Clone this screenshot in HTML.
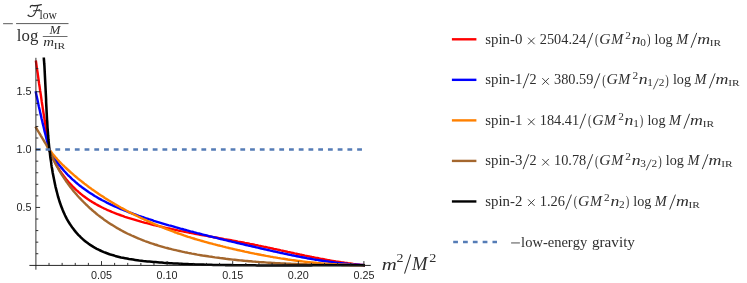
<!DOCTYPE html>
<html><head><meta charset="utf-8"><title>plot</title>
<style>html,body{margin:0;padding:0;background:#fff;}svg{display:block;}</style></head>
<body><svg style="will-change:transform" width="747" height="283" viewBox="0 0 747 283">
<rect width="747" height="283" fill="#ffffff"/>
<path d="M36.0,61.7 L36.5,65.4 L37.0,69.0 L37.6,72.7 L38.1,76.3 L38.6,80.0 L39.1,83.7 L39.7,87.3 L40.2,91.0 L40.8,94.7 L41.3,98.3 L41.8,102.0 L42.4,105.7 L42.9,109.3 L43.5,113.0 L44.1,116.6 L44.6,120.3 L45.2,124.0 L45.7,127.6 L46.3,131.3 L46.9,134.9 L47.5,138.6 L48.0,142.3 L48.6,145.9 L49.2,149.6 L49.8,151.2 L50.5,152.8 L51.1,154.5 L51.8,156.0 L52.6,157.6 L53.3,159.2 L54.1,160.8 L54.9,162.3 L55.8,163.9 L56.6,165.4 L57.5,166.9 L58.5,168.4 L59.4,169.9 L60.4,171.4 L61.4,172.8 L62.4,174.3 L63.5,175.7 L64.5,177.1 L65.6,178.5 L66.7,179.9 L67.9,181.2 L69.0,182.5 L70.2,183.8 L71.4,185.1 L72.6,186.4 L73.9,187.6 L75.1,188.9 L76.4,190.1 L77.7,191.2 L79.0,192.4 L80.3,193.5 L81.7,194.6 L83.1,195.7 L84.5,196.7 L85.9,197.8 L87.3,198.8 L88.7,199.7 L90.2,200.7 L91.6,201.6 L93.1,202.5 L94.6,203.4 L96.1,204.3 L97.6,205.1 L99.1,205.9 L100.7,206.7 L102.2,207.5 L103.8,208.3 L105.4,209.0 L107.0,209.8 L108.6,210.5 L110.2,211.2 L111.8,211.9 L113.4,212.5 L115.0,213.2 L116.7,213.8 L118.3,214.4 L120.0,215.0 L121.6,215.6 L123.3,216.2 L124.9,216.8 L126.6,217.3 L128.3,217.9 L130.0,218.4 L131.7,218.9 L133.4,219.4 L135.1,219.9 L136.7,220.4 L138.4,220.9 L140.1,221.4 L141.8,221.9 L143.5,222.3 L145.2,222.8 L146.9,223.2 L148.6,223.7 L150.3,224.1 L152.1,224.5 L153.8,225.0 L155.5,225.4 L157.2,225.8 L158.9,226.2 L160.6,226.6 L162.3,227.0 L164.0,227.4 L165.7,227.8 L167.4,228.2 L169.1,228.5 L170.9,228.9 L172.6,229.3 L174.3,229.6 L176.0,230.0 L177.7,230.4 L179.4,230.7 L181.1,231.1 L182.9,231.4 L184.6,231.7 L186.3,232.1 L188.0,232.4 L189.7,232.7 L191.5,233.1 L193.2,233.4 L194.9,233.7 L196.6,234.0 L198.3,234.4 L200.1,234.7 L201.8,235.0 L203.5,235.3 L205.2,235.6 L206.9,235.9 L208.7,236.3 L210.4,236.6 L212.1,236.9 L213.8,237.2 L215.6,237.5 L217.3,237.8 L219.0,238.1 L220.7,238.4 L222.4,238.7 L224.2,239.1 L225.9,239.4 L227.6,239.7 L229.3,240.0 L231.1,240.3 L232.8,240.6 L234.5,240.9 L236.2,241.2 L237.9,241.6 L239.7,241.9 L241.4,242.2 L243.1,242.5 L244.8,242.9 L246.6,243.2 L248.3,243.5 L250.0,243.9 L251.7,244.2 L253.4,244.5 L255.2,244.9 L256.9,245.2 L258.6,245.6 L260.3,245.9 L262.0,246.3 L263.7,246.7 L265.5,247.0 L267.2,247.4 L268.9,247.8 L270.6,248.1 L272.3,248.5 L274.0,248.9 L275.8,249.2 L277.5,249.6 L279.2,250.0 L280.9,250.4 L282.6,250.7 L284.3,251.1 L286.1,251.5 L287.8,251.9 L289.5,252.2 L291.2,252.6 L292.9,253.0 L294.6,253.4 L296.4,253.7 L298.1,254.1 L299.8,254.5 L301.5,254.8 L303.2,255.2 L305.0,255.6 L306.7,255.9 L308.4,256.3 L310.1,256.6 L311.8,257.0 L313.6,257.3 L315.3,257.7 L317.0,258.0 L318.7,258.3 L320.4,258.7 L322.2,259.0 L323.9,259.3 L325.6,259.6 L327.3,260.0 L329.1,260.3 L330.8,260.6 L332.5,260.9 L334.3,261.2 L336.0,261.5 L337.7,261.7 L339.4,262.0 L341.2,262.3 L342.9,262.5 L344.6,262.8 L346.4,263.0 L348.1,263.3 L349.9,263.5 L351.6,263.7 L353.3,264.0 L355.1,264.2 L356.8,264.4 L358.6,264.6 L360.3,264.8 L362.1,264.9 L363.8,265.1" fill="none" stroke="#ff0000" stroke-width="2.4" stroke-linejoin="round" stroke-linecap="square"/>
<path d="M35.9,92.5 L36.4,94.9 L36.9,97.3 L37.4,99.6 L37.9,102.0 L38.4,104.4 L38.9,106.8 L39.5,109.2 L40.0,111.5 L40.5,113.9 L41.1,116.3 L41.6,118.7 L42.2,121.0 L42.7,123.4 L43.3,125.8 L43.9,128.2 L44.4,130.6 L45.0,132.9 L45.6,135.3 L46.2,137.7 L46.8,140.1 L47.4,142.5 L48.0,144.8 L48.6,147.2 L49.2,149.6 L50.1,151.2 L50.9,152.7 L51.8,154.2 L52.7,155.7 L53.7,157.2 L54.6,158.7 L55.6,160.1 L56.6,161.6 L57.7,163.0 L58.7,164.4 L59.8,165.7 L60.9,167.1 L62.0,168.4 L63.1,169.7 L64.2,171.0 L65.4,172.3 L66.6,173.6 L67.7,174.8 L69.0,176.0 L70.2,177.2 L71.4,178.4 L72.7,179.6 L74.0,180.7 L75.3,181.9 L76.6,183.0 L77.9,184.1 L79.2,185.2 L80.6,186.2 L81.9,187.3 L83.3,188.3 L84.7,189.3 L86.1,190.3 L87.5,191.3 L88.9,192.3 L90.4,193.2 L91.8,194.1 L93.3,195.1 L94.7,196.0 L96.2,196.8 L97.7,197.7 L99.2,198.6 L100.7,199.4 L102.2,200.2 L103.8,201.0 L105.3,201.8 L106.8,202.6 L108.4,203.4 L109.9,204.1 L111.5,204.9 L113.1,205.6 L114.7,206.3 L116.2,207.0 L117.8,207.7 L119.4,208.4 L121.0,209.1 L122.6,209.7 L124.3,210.4 L125.9,211.0 L127.5,211.7 L129.1,212.3 L130.7,212.9 L132.4,213.5 L134.0,214.1 L135.7,214.7 L137.3,215.3 L138.9,215.9 L140.6,216.4 L142.2,217.0 L143.9,217.5 L145.5,218.1 L147.2,218.6 L148.8,219.2 L150.5,219.7 L152.2,220.2 L153.8,220.8 L155.5,221.3 L157.1,221.8 L158.8,222.3 L160.5,222.8 L162.1,223.3 L163.8,223.8 L165.5,224.3 L167.1,224.8 L168.8,225.3 L170.5,225.7 L172.1,226.2 L173.8,226.7 L175.5,227.2 L177.1,227.6 L178.8,228.1 L180.5,228.6 L182.1,229.0 L183.8,229.5 L185.5,229.9 L187.2,230.4 L188.8,230.8 L190.5,231.3 L192.2,231.7 L193.8,232.2 L195.5,232.6 L197.2,233.1 L198.9,233.5 L200.6,233.9 L202.2,234.4 L203.9,234.8 L205.6,235.2 L207.3,235.6 L208.9,236.1 L210.6,236.5 L212.3,236.9 L214.0,237.3 L215.7,237.7 L217.3,238.1 L219.0,238.6 L220.7,239.0 L222.4,239.4 L224.1,239.8 L225.7,240.2 L227.4,240.6 L229.1,241.0 L230.8,241.4 L232.5,241.8 L234.2,242.2 L235.8,242.6 L237.5,243.0 L239.2,243.4 L240.9,243.8 L242.6,244.2 L244.3,244.6 L246.0,245.0 L247.7,245.4 L249.3,245.7 L251.0,246.1 L252.7,246.5 L254.4,246.9 L256.1,247.3 L257.8,247.7 L259.5,248.1 L261.2,248.5 L262.9,248.9 L264.6,249.3 L266.3,249.6 L267.9,250.0 L269.6,250.4 L271.3,250.8 L273.0,251.2 L274.7,251.5 L276.4,251.9 L278.1,252.3 L279.8,252.7 L281.5,253.0 L283.2,253.4 L284.9,253.8 L286.6,254.1 L288.3,254.5 L290.0,254.8 L291.7,255.2 L293.4,255.5 L295.1,255.9 L296.8,256.2 L298.5,256.5 L300.2,256.9 L301.9,257.2 L303.6,257.5 L305.3,257.8 L307.0,258.2 L308.7,258.5 L310.5,258.8 L312.2,259.1 L313.9,259.4 L315.6,259.7 L317.3,259.9 L319.0,260.2 L320.7,260.5 L322.4,260.8 L324.1,261.0 L325.9,261.3 L327.6,261.5 L329.3,261.8 L331.0,262.0 L332.7,262.2 L334.4,262.5 L336.2,262.7 L337.9,262.9 L339.6,263.1 L341.3,263.3 L343.0,263.5 L344.8,263.7 L346.5,263.8 L348.2,264.0 L349.9,264.1 L351.7,264.3 L353.4,264.4 L355.1,264.6 L356.9,264.7 L358.6,264.8 L360.3,264.9 L362.1,265.0 L363.8,265.1" fill="none" stroke="#0000ff" stroke-width="2.4" stroke-linejoin="round" stroke-linecap="square"/>
<path d="M46.6,145.3 L47.4,146.5 L48.2,147.8 L49.0,149.0 L49.9,150.2 L50.7,151.3 L51.6,152.5 L52.5,153.7 L53.4,154.8 L54.4,155.9 L55.3,157.0 L56.3,158.1 L57.2,159.2 L58.2,160.3 L59.2,161.4 L60.2,162.4 L61.3,163.5 L62.3,164.5 L63.3,165.5 L64.4,166.5 L65.4,167.5 L66.5,168.5 L67.6,169.5 L68.7,170.5 L69.8,171.5 L70.9,172.5 L72.0,173.4 L73.1,174.4 L74.2,175.4 L75.3,176.3 L76.4,177.2 L77.5,178.2 L78.7,179.1 L79.8,180.0 L81.0,180.9 L82.1,181.8 L83.3,182.7 L84.4,183.6 L85.6,184.5 L86.8,185.4 L87.9,186.3 L89.1,187.2 L90.3,188.0 L91.5,188.9 L92.7,189.7 L93.9,190.6 L95.1,191.4 L96.3,192.3 L97.5,193.1 L98.7,193.9 L99.9,194.7 L101.1,195.5 L102.4,196.3 L103.6,197.1 L104.8,197.9 L106.1,198.7 L107.3,199.5 L108.5,200.3 L109.8,201.0 L111.0,201.8 L112.3,202.6 L113.5,203.3 L114.8,204.1 L116.1,204.8 L117.3,205.5 L118.6,206.3 L119.9,207.0 L121.1,207.7 L122.4,208.4 L123.7,209.1 L125.0,209.8 L126.3,210.5 L127.6,211.2 L128.8,211.9 L130.1,212.6 L131.4,213.2 L132.7,213.9 L134.0,214.5 L135.3,215.2 L136.7,215.8 L138.0,216.5 L139.3,217.1 L140.6,217.8 L141.9,218.4 L143.2,219.0 L144.6,219.6 L145.9,220.2 L147.2,220.8 L148.5,221.4 L149.9,222.0 L151.2,222.6 L152.5,223.2 L153.9,223.8 L155.2,224.4 L156.6,224.9 L157.9,225.5 L159.3,226.1 L160.6,226.6 L162.0,227.2 L163.3,227.7 L164.7,228.3 L166.1,228.8 L167.4,229.4 L168.8,229.9 L170.2,230.4 L171.5,230.9 L172.9,231.4 L174.3,232.0 L175.7,232.5 L177.0,233.0 L178.4,233.5 L179.8,233.9 L181.2,234.4 L182.6,234.9 L183.9,235.4 L185.3,235.8 L186.7,236.3 L188.1,236.8 L189.5,237.2 L190.9,237.7 L192.3,238.1 L193.7,238.5 L195.1,239.0 L196.5,239.4 L197.9,239.8 L199.3,240.2 L200.7,240.6 L202.1,241.0 L203.5,241.4 L204.9,241.8 L206.3,242.2 L207.7,242.6 L209.2,243.0 L210.6,243.3 L212.0,243.7 L213.4,244.1 L214.8,244.4 L216.2,244.8 L217.6,245.2 L219.1,245.5 L220.5,245.9 L221.9,246.2 L223.3,246.6 L224.7,246.9 L226.2,247.3 L227.6,247.6 L229.0,248.0 L230.4,248.3 L231.8,248.6 L233.3,249.0 L234.7,249.3 L236.1,249.6 L237.5,250.0 L239.0,250.3 L240.4,250.6 L241.8,250.9 L243.3,251.2 L244.7,251.6 L246.1,251.9 L247.5,252.2 L249.0,252.5 L250.4,252.8 L251.8,253.1 L253.3,253.4 L254.7,253.7 L256.1,253.9 L257.6,254.2 L259.0,254.5 L260.5,254.8 L261.9,255.1 L263.3,255.3 L264.8,255.6 L266.2,255.9 L267.7,256.1 L269.1,256.4 L270.5,256.7 L272.0,256.9 L273.4,257.2 L274.9,257.4 L276.3,257.6 L277.8,257.9 L279.2,258.1 L280.7,258.4 L282.1,258.6 L283.6,258.8 L285.0,259.0 L286.4,259.2 L287.9,259.5 L289.3,259.7 L290.8,259.9 L292.2,260.1 L293.7,260.3 L295.2,260.5 L296.6,260.7 L298.1,260.9 L299.5,261.0 L301.0,261.2 L302.4,261.4 L303.9,261.6 L305.3,261.8 L306.8,261.9 L308.2,262.1 L309.7,262.2 L311.2,262.4 L312.6,262.5 L314.1,262.7 L315.5,262.8 L317.0,263.0 L318.4,263.1 L319.9,263.2 L321.4,263.4 L322.8,263.5 L324.3,263.6 L325.7,263.7 L327.2,263.8 L328.7,263.9 L330.1,264.0 L331.6,264.1 L333.0,264.2 L334.5,264.3 L336.0,264.4 L337.4,264.5 L338.9,264.5 L340.4,264.6 L341.8,264.7 L343.3,264.7 L344.8,264.8 L346.2,264.8 L347.7,264.9 L349.1,264.9 L350.6,265.0 L352.1,265.0 L353.5,265.0 L355.0,265.1 L356.5,265.1 L357.9,265.1 L359.4,265.1 L360.9,265.1 L362.3,265.1 L363.8,265.1" fill="none" stroke="#ff8000" stroke-width="2.4" stroke-linejoin="round"/>
<path d="M36.0,127.6 L36.5,128.5 L37.1,129.4 L37.6,130.3 L38.2,131.3 L38.7,132.2 L39.3,133.1 L39.8,134.0 L40.4,134.9 L40.9,135.8 L41.5,136.8 L42.0,137.7 L42.6,138.6 L43.1,139.5 L43.7,140.4 L44.2,141.3 L44.8,142.3 L45.3,143.2 L45.9,144.1 L46.4,145.0 L47.0,145.9 L47.5,146.8 L48.1,147.8 L48.6,148.7 L49.2,149.6 L49.9,151.3 L50.6,153.0 L51.3,154.6 L52.0,156.3 L52.8,158.0 L53.5,159.6 L54.3,161.2 L55.1,162.8 L55.9,164.5 L56.8,166.1 L57.7,167.6 L58.5,169.2 L59.4,170.8 L60.4,172.3 L61.3,173.9 L62.2,175.4 L63.2,176.9 L64.2,178.4 L65.2,179.9 L66.2,181.4 L67.3,182.8 L68.3,184.3 L69.4,185.7 L70.5,187.2 L71.6,188.6 L72.7,190.0 L73.8,191.4 L75.0,192.7 L76.2,194.1 L77.3,195.5 L78.5,196.8 L79.8,198.1 L81.0,199.4 L82.2,200.7 L83.5,202.0 L84.7,203.2 L86.0,204.5 L87.3,205.7 L88.6,207.0 L89.9,208.2 L91.3,209.3 L92.6,210.5 L94.0,211.7 L95.4,212.8 L96.7,214.0 L98.1,215.1 L99.6,216.2 L101.0,217.3 L102.4,218.3 L103.8,219.4 L105.3,220.4 L106.8,221.4 L108.2,222.4 L109.7,223.4 L111.2,224.4 L112.7,225.3 L114.3,226.3 L115.8,227.2 L117.3,228.1 L118.9,229.0 L120.4,229.9 L122.0,230.7 L123.6,231.6 L125.1,232.4 L126.7,233.2 L128.3,234.0 L129.9,234.7 L131.6,235.5 L133.2,236.2 L134.8,236.9 L136.5,237.6 L138.1,238.3 L139.8,239.0 L141.4,239.7 L143.1,240.3 L144.8,241.0 L146.4,241.6 L148.1,242.2 L149.8,242.8 L151.5,243.4 L153.2,243.9 L154.9,244.5 L156.7,245.0 L158.4,245.6 L160.1,246.1 L161.8,246.6 L163.6,247.1 L165.3,247.6 L167.1,248.0 L168.8,248.5 L170.5,248.9 L172.3,249.4 L174.1,249.8 L175.8,250.2 L177.6,250.6 L179.4,251.0 L181.1,251.4 L182.9,251.8 L184.7,252.2 L186.5,252.5 L188.2,252.9 L190.0,253.2 L191.8,253.6 L193.6,253.9 L195.4,254.2 L197.2,254.6 L198.9,254.9 L200.7,255.2 L202.5,255.5 L204.3,255.7 L206.1,256.0 L207.9,256.3 L209.7,256.6 L211.5,256.8 L213.3,257.1 L215.0,257.4 L216.8,257.6 L218.6,257.8 L220.4,258.1 L222.2,258.3 L224.0,258.5 L225.8,258.8 L227.6,259.0 L229.3,259.2 L231.1,259.4 L232.9,259.6 L234.7,259.8 L236.5,260.0 L238.3,260.2 L240.1,260.4 L241.9,260.5 L243.6,260.7 L245.4,260.9 L247.2,261.0 L249.0,261.2 L250.8,261.3 L252.6,261.5 L254.4,261.6 L256.1,261.8 L257.9,261.9 L259.7,262.1 L261.5,262.2 L263.3,262.3 L265.1,262.4 L266.9,262.6 L268.7,262.7 L270.4,262.8 L272.2,262.9 L274.0,263.0 L275.8,263.1 L277.6,263.2 L279.4,263.3 L281.2,263.4 L283.0,263.5 L284.8,263.5 L286.5,263.6 L288.3,263.7 L290.1,263.8 L291.9,263.9 L293.7,263.9 L295.5,264.0 L297.3,264.1 L299.1,264.1 L300.9,264.2 L302.7,264.2 L304.4,264.3 L306.2,264.3 L308.0,264.4 L309.8,264.4 L311.6,264.5 L313.4,264.5 L315.2,264.6 L317.0,264.6 L318.8,264.6 L320.6,264.7 L322.4,264.7 L324.2,264.7 L326.0,264.8 L327.8,264.8 L329.6,264.8 L331.4,264.8 L333.2,264.9 L335.0,264.9 L336.8,264.9 L338.6,264.9 L340.4,264.9 L342.2,265.0 L344.0,265.0 L345.8,265.0 L347.6,265.0 L349.4,265.0 L351.2,265.0 L353.0,265.0 L354.8,265.1 L356.6,265.1 L358.4,265.1 L360.2,265.1 L362.0,265.1 L363.8,265.1" fill="none" stroke="#a4672e" stroke-width="2.4" stroke-linejoin="round" stroke-linecap="square"/>
<path d="M43.8,57.5 L43.9,59.5 L44.1,61.5 L44.2,63.5 L44.4,65.5 L44.5,67.5 L44.6,69.5 L44.7,71.5 L44.8,73.5 L44.9,75.5 L45.0,77.5 L45.1,79.5 L45.2,81.5 L45.3,83.5 L45.4,85.5 L45.5,87.5 L45.6,89.5 L45.7,91.5 L45.8,93.5 L45.9,95.5 L46.0,97.5 L46.1,99.5 L46.1,101.5 L46.2,103.5 L46.3,105.4 L46.4,107.4 L46.5,109.4 L46.6,111.4 L46.7,113.4 L46.8,115.4 L46.9,117.4 L47.0,119.3 L47.2,121.3 L47.3,123.3 L47.4,125.3 L47.5,127.3 L47.7,129.3 L47.8,131.2 L48.0,133.2 L48.1,135.2 L48.3,137.2 L48.4,139.2 L48.6,141.2 L48.8,143.1 L49.0,145.1 L49.2,147.1 L49.4,149.1 L49.6,151.1 L49.9,153.0 L50.1,155.0 L50.3,157.0 L50.6,159.0 L50.9,160.9 L51.2,162.9 L51.4,164.9 L51.7,166.9 L52.1,168.8 L52.4,170.8 L52.7,172.8 L53.1,174.8 L53.5,176.8 L53.9,178.7 L54.3,180.7 L54.7,182.7 L55.1,184.7 L55.5,186.6 L56.0,188.6 L56.5,190.6 L57.0,192.5 L57.5,194.5 L58.0,196.5 L58.6,198.4 L59.2,200.3 L59.8,202.3 L60.5,204.2 L61.1,206.1 L61.9,208.0 L62.6,209.8 L63.4,211.7 L64.2,213.5 L65.0,215.3 L65.9,217.1 L66.8,218.9 L67.8,220.6 L68.8,222.3 L69.9,224.0 L71.0,225.6 L72.1,227.2 L73.3,228.8 L74.5,230.4 L75.7,231.9 L77.0,233.4 L78.3,234.8 L79.7,236.2 L81.1,237.6 L82.5,238.9 L84.0,240.2 L85.5,241.4 L87.0,242.6 L88.6,243.8 L90.2,244.9 L91.8,245.9 L93.4,246.9 L95.1,247.9 L96.8,248.8 L98.6,249.7 L100.3,250.5 L102.1,251.3 L103.9,252.1 L105.7,252.8 L107.6,253.5 L109.5,254.2 L111.4,254.8 L113.3,255.3 L115.2,255.9 L117.1,256.4 L119.1,256.9 L121.0,257.4 L123.0,257.8 L125.0,258.2 L127.0,258.6 L129.0,259.0 L131.1,259.3 L133.1,259.6 L135.1,259.9 L137.1,260.2 L139.2,260.5 L141.2,260.7 L143.3,261.0 L145.3,261.2 L147.4,261.4 L149.4,261.6 L151.5,261.8 L153.5,262.0 L155.5,262.1 L157.6,262.3 L159.6,262.5 L161.6,262.6 L163.6,262.8 L165.6,262.9 L167.6,263.0 L169.6,263.2 L171.6,263.3 L173.6,263.4 L175.6,263.5 L177.6,263.6 L179.6,263.7 L181.6,263.8 L183.6,263.9 L185.6,264.0 L187.6,264.1 L189.5,264.2 L191.5,264.2 L193.5,264.3 L195.5,264.4 L197.4,264.5 L199.4,264.5 L201.4,264.6 L203.4,264.6 L205.3,264.7 L207.3,264.7 L209.3,264.8 L211.3,264.8 L213.2,264.9 L215.2,264.9 L217.2,264.9 L219.2,265.0 L221.1,265.0 L223.1,265.0 L225.1,265.1 L227.1,265.1 L229.1,265.1 L231.1,265.1 L233.1,265.2 L235.0,265.2 L237.0,265.2 L239.0,265.2 L241.0,265.3 L243.0,265.3 L245.0,265.3 L247.0,265.3 L249.0,265.3 L251.0,265.3 L253.0,265.3 L255.0,265.3 L257.0,265.4 L259.0,265.4 L261.0,265.4 L263.0,265.4 L265.0,265.4 L267.0,265.4 L269.0,265.4 L271.0,265.4 L273.0,265.4 L275.0,265.4 L277.0,265.4 L279.0,265.4 L281.0,265.4 L283.0,265.4 L285.1,265.4 L287.1,265.4 L289.1,265.4 L291.1,265.4 L293.1,265.4 L295.1,265.4 L297.1,265.4 L299.1,265.4 L301.1,265.4 L303.1,265.4 L305.1,265.4 L307.1,265.4 L309.1,265.4 L311.1,265.4 L313.1,265.3 L315.1,265.3 L317.1,265.3 L319.2,265.3 L321.2,265.3 L323.2,265.3 L325.2,265.3 L327.2,265.3 L329.2,265.3 L331.2,265.3 L333.2,265.3 L335.2,265.3 L337.2,265.3 L339.1,265.3 L341.1,265.3 L343.1,265.3 L345.1,265.3 L347.1,265.3 L349.1,265.3 L351.1,265.3 L353.1,265.3 L355.1,265.3 L357.1,265.3 L359.1,265.3 L361.0,265.3 L363.0,265.3 L365.0,265.4" fill="none" stroke="#000000" stroke-width="2.55" stroke-linejoin="round"/>
<line x1="35.9" y1="149.6" x2="363.6" y2="149.6" stroke="#557cb6" stroke-width="2.5" stroke-dasharray="4.8 4.935"/>
<g stroke="#1c1c1c" stroke-width="0.9" fill="none">
<line x1="29.4" y1="265.42" x2="370.8" y2="265.42" stroke-width="0.95" stroke="#1c1c1c"/>
<line x1="35.9" y1="57.8" x2="35.9" y2="269.7"/>
<line x1="49.02" y1="265.3" x2="49.02" y2="262.90000000000003"/>
<line x1="62.14" y1="265.3" x2="62.14" y2="262.90000000000003"/>
<line x1="75.26" y1="265.3" x2="75.26" y2="262.90000000000003"/>
<line x1="88.38" y1="265.3" x2="88.38" y2="262.90000000000003"/>
<line x1="101.50" y1="265.3" x2="101.50" y2="261.1"/>
<line x1="114.62" y1="265.3" x2="114.62" y2="262.90000000000003"/>
<line x1="127.74" y1="265.3" x2="127.74" y2="262.90000000000003"/>
<line x1="140.86" y1="265.3" x2="140.86" y2="262.90000000000003"/>
<line x1="153.98" y1="265.3" x2="153.98" y2="262.90000000000003"/>
<line x1="167.10" y1="265.3" x2="167.10" y2="261.1"/>
<line x1="180.22" y1="265.3" x2="180.22" y2="262.90000000000003"/>
<line x1="193.34" y1="265.3" x2="193.34" y2="262.90000000000003"/>
<line x1="206.46" y1="265.3" x2="206.46" y2="262.90000000000003"/>
<line x1="219.58" y1="265.3" x2="219.58" y2="262.90000000000003"/>
<line x1="232.70" y1="265.3" x2="232.70" y2="261.1"/>
<line x1="245.82" y1="265.3" x2="245.82" y2="262.90000000000003"/>
<line x1="258.94" y1="265.3" x2="258.94" y2="262.90000000000003"/>
<line x1="272.06" y1="265.3" x2="272.06" y2="262.90000000000003"/>
<line x1="285.18" y1="265.3" x2="285.18" y2="262.90000000000003"/>
<line x1="298.30" y1="265.3" x2="298.30" y2="261.1"/>
<line x1="311.42" y1="265.3" x2="311.42" y2="262.90000000000003"/>
<line x1="324.54" y1="265.3" x2="324.54" y2="262.90000000000003"/>
<line x1="337.66" y1="265.3" x2="337.66" y2="262.90000000000003"/>
<line x1="350.78" y1="265.3" x2="350.78" y2="262.90000000000003"/>
<line x1="363.90" y1="265.3" x2="363.90" y2="261.1"/>
<line x1="35.9" y1="253.73" x2="38.3" y2="253.73"/>
<line x1="35.9" y1="242.16" x2="38.3" y2="242.16"/>
<line x1="35.9" y1="230.59" x2="38.3" y2="230.59"/>
<line x1="35.9" y1="219.02" x2="38.3" y2="219.02"/>
<line x1="35.9" y1="207.45" x2="40.1" y2="207.45"/>
<line x1="35.9" y1="195.88" x2="38.3" y2="195.88"/>
<line x1="35.9" y1="184.31" x2="38.3" y2="184.31"/>
<line x1="35.9" y1="172.74" x2="38.3" y2="172.74"/>
<line x1="35.9" y1="161.17" x2="38.3" y2="161.17"/>
<line x1="35.9" y1="149.60" x2="40.1" y2="149.60"/>
<line x1="35.9" y1="138.03" x2="38.3" y2="138.03"/>
<line x1="35.9" y1="126.46" x2="38.3" y2="126.46"/>
<line x1="35.9" y1="114.89" x2="38.3" y2="114.89"/>
<line x1="35.9" y1="103.32" x2="38.3" y2="103.32"/>
<line x1="35.9" y1="91.75" x2="40.1" y2="91.75"/>
<line x1="35.9" y1="80.18" x2="38.3" y2="80.18"/>
<line x1="35.9" y1="68.61" x2="38.3" y2="68.61"/>
</g>
<g font-family="Liberation Sans, sans-serif" font-size="10.8" fill="#1e1e1e">
<text x="101.50" y="278.8" text-anchor="middle">0.05</text>
<text x="167.10" y="278.8" text-anchor="middle">0.10</text>
<text x="232.70" y="278.8" text-anchor="middle">0.15</text>
<text x="298.30" y="278.8" text-anchor="middle">0.20</text>
<text x="363.90" y="278.8" text-anchor="middle">0.25</text>
<text x="31.6" y="211.15" text-anchor="end">0.5</text>
<text x="31.6" y="153.30" text-anchor="end">1.0</text>
<text x="31.6" y="95.45" text-anchor="end">1.5</text>
</g>
<g font-family="Liberation Serif, serif" fill="#2e2e2e" style="font-kerning:none">
<line x1="3.1" y1="23.7" x2="12.8" y2="23.7" stroke="#2e2e2e" stroke-width="0.8"/>
<line x1="16.1" y1="23.6" x2="68.5" y2="23.6" stroke="#2e2e2e" stroke-width="0.8"/>
<path d="M30.4,7.1 C30.2,5.7 31.4,5.4 33,5.6 C36,6.0 38.6,5.5 41.3,4.6" fill="none" stroke="#2e2e2e" stroke-width="1.35" stroke-linecap="round"/>
<path d="M37.9,5.7 C37.0,9.0 35.8,12.5 34.3,14.6 C32.9,16.6 30.0,17.1 28.1,15.5" fill="none" stroke="#2e2e2e" stroke-width="1.05" stroke-linecap="round"/>
<circle cx="28.3" cy="15.2" r="0.75" fill="#2e2e2e"/>
<path d="M33.4,10.9 C35.5,10.6 37.5,10.5 39.2,10.2 M39.2,9.4 L39.2,11.1" fill="none" stroke="#2e2e2e" stroke-width="1.0" stroke-linecap="round"/>
<text transform="translate(39.47,19.10) scale(0.927,1)" font-size="12.5">low</text>
<text transform="translate(16.86,41.30) scale(0.976,1)" font-size="17.2">log</text>
<text transform="translate(49.45,33.60) scale(1.142,1)" font-size="11.5" font-style="italic">M</text>
<line x1="42.8" y1="36.5" x2="67.5" y2="36.5" stroke="#2e2e2e" stroke-width="0.7"/>
<text transform="translate(43.36,46.10) scale(1.296,1)" font-size="11.5" font-style="italic">m</text>
<text transform="translate(53.78,48.70) scale(1.442,1)" font-size="8">IR</text>
<text transform="translate(381.75,269.50) scale(1.189,1)" font-size="17.5" font-style="italic">m</text>
<text transform="translate(396.59,262.00) scale(1.164,1)" font-size="12">2</text>
<line x1="404.70" y1="273.20" x2="410.60" y2="254.80" stroke="#2e2e2e" stroke-width="1.05" stroke-linecap="round"/>
<text transform="translate(412.12,269.50) scale(1.065,1.08)" font-size="17.5" font-style="italic">M</text>
<text transform="translate(429.18,262.00) scale(1.185,1)" font-size="12">2</text>
<line x1="451.9" y1="39.3" x2="476.4" y2="39.3" stroke="#ff0000" stroke-width="2.4"/>
<line x1="451.9" y1="79.84" x2="476.4" y2="79.84" stroke="#0000ff" stroke-width="2.4"/>
<line x1="451.9" y1="120.38" x2="476.4" y2="120.38" stroke="#ff8000" stroke-width="2.4"/>
<line x1="451.9" y1="160.92" x2="476.4" y2="160.92" stroke="#a4672e" stroke-width="2.4"/>
<line x1="451.9" y1="201.46" x2="476.4" y2="201.46" stroke="#000000" stroke-width="2.4"/>
<line x1="453.2" y1="242.0" x2="497" y2="242.0" stroke="#557cb6" stroke-width="2.5" stroke-dasharray="4.75 5.07"/>
<text transform="translate(485.30,43.90) scale(1.076,1)" font-size="13.8">spin-0</text>
<path d="M528.36,37.95 L534.36,43.95 M528.36,43.95 L534.36,37.95" stroke="#2e2e2e" stroke-width="0.9" stroke-linecap="round" fill="none"/>
<text transform="translate(539.78,43.90) scale(1.037,1)" font-size="13.8">2504.24</text>
<line x1="587.08" y1="47.45" x2="592.59" y2="33.26" stroke="#2e2e2e" stroke-width="0.95" stroke-linecap="round"/>
<g transform="translate(0,44.30) scale(1,1.08) translate(0,-43.90)">
<text transform="translate(595.05,43.90) scale(0.761,1)" font-size="13.8">(</text>
</g>
<text transform="translate(599.32,43.90) scale(1.131,1.07)" font-size="13.8" font-style="italic">G</text>
<text transform="translate(611.22,43.90) scale(1.039,1.07)" font-size="13.8" font-style="italic">M</text>
<text transform="translate(625.37,38.80) scale(1.153,1)" font-size="9.8">2</text>
<text transform="translate(631.66,43.90) scale(1.289,1)" font-size="13.8" font-style="italic">n</text>
<text transform="translate(640.24,46.00) scale(1.153,1)" font-size="9.8">0</text>
<g transform="translate(0,44.30) scale(1,1.08) translate(0,-43.90)">
<text transform="translate(646.97,43.90) scale(0.761,1)" font-size="13.8">)</text>
</g>
<text transform="translate(654.49,43.90) scale(1.028,1)" font-size="13.8">log</text>
<text transform="translate(676.15,43.90) scale(1.039,1.07)" font-size="13.8" font-style="italic">M</text>
<line x1="691.10" y1="47.45" x2="696.60" y2="33.26" stroke="#2e2e2e" stroke-width="0.95" stroke-linecap="round"/>
<text transform="translate(697.18,43.90) scale(1.293,1)" font-size="13.8" font-style="italic">m</text>
<text transform="translate(709.86,46.00) scale(1.227,1)" font-size="9.2">I</text>
<text transform="translate(713.62,46.00) scale(1.237,1)" font-size="9.2">R</text>
<text transform="translate(485.30,84.35) scale(1.076,1)" font-size="13.8">spin-1</text>
<line x1="523.23" y1="87.90" x2="528.74" y2="73.71" stroke="#2e2e2e" stroke-width="0.95" stroke-linecap="round"/>
<text transform="translate(529.53,84.35) scale(1.028,1)" font-size="13.8">2</text>
<path d="M542.55,78.40 L548.55,84.40 M542.55,84.40 L548.55,78.40" stroke="#2e2e2e" stroke-width="0.9" stroke-linecap="round" fill="none"/>
<text transform="translate(553.97,84.35) scale(1.039,1)" font-size="13.8">380.59</text>
<line x1="594.18" y1="87.90" x2="599.69" y2="73.71" stroke="#2e2e2e" stroke-width="0.95" stroke-linecap="round"/>
<g transform="translate(0,84.75) scale(1,1.08) translate(0,-84.35)">
<text transform="translate(602.15,84.35) scale(0.761,1)" font-size="13.8">(</text>
</g>
<text transform="translate(606.42,84.35) scale(1.131,1.07)" font-size="13.8" font-style="italic">G</text>
<text transform="translate(618.31,84.35) scale(1.039,1.07)" font-size="13.8" font-style="italic">M</text>
<text transform="translate(632.46,79.25) scale(1.153,1)" font-size="9.8">2</text>
<text transform="translate(638.76,84.35) scale(1.289,1)" font-size="13.8" font-style="italic">n</text>
<text transform="translate(647.34,86.45) scale(1.153,1)" font-size="9.8">1</text>
<line x1="653.51" y1="88.98" x2="658.11" y2="78.85" stroke="#2e2e2e" stroke-width="0.8" stroke-linecap="round"/>
<text transform="translate(658.63,86.45) scale(1.153,1)" font-size="9.8">2</text>
<g transform="translate(0,84.75) scale(1,1.08) translate(0,-84.35)">
<text transform="translate(665.36,84.35) scale(0.761,1)" font-size="13.8">)</text>
</g>
<text transform="translate(672.88,84.35) scale(1.028,1)" font-size="13.8">log</text>
<text transform="translate(694.54,84.35) scale(1.039,1.07)" font-size="13.8" font-style="italic">M</text>
<line x1="709.49" y1="87.90" x2="714.99" y2="73.71" stroke="#2e2e2e" stroke-width="0.95" stroke-linecap="round"/>
<text transform="translate(715.57,84.35) scale(1.293,1)" font-size="13.8" font-style="italic">m</text>
<text transform="translate(728.25,86.45) scale(1.227,1)" font-size="9.2">I</text>
<text transform="translate(732.01,86.45) scale(1.237,1)" font-size="9.2">R</text>
<text transform="translate(485.30,124.80) scale(1.076,1)" font-size="13.8">spin-1</text>
<path d="M528.36,118.85 L534.36,124.85 M528.36,124.85 L534.36,118.85" stroke="#2e2e2e" stroke-width="0.9" stroke-linecap="round" fill="none"/>
<text transform="translate(539.78,124.80) scale(1.039,1)" font-size="13.8">184.41</text>
<line x1="579.99" y1="128.35" x2="585.50" y2="114.16" stroke="#2e2e2e" stroke-width="0.95" stroke-linecap="round"/>
<g transform="translate(0,125.20) scale(1,1.08) translate(0,-124.80)">
<text transform="translate(587.96,124.80) scale(0.761,1)" font-size="13.8">(</text>
</g>
<text transform="translate(592.23,124.80) scale(1.131,1.07)" font-size="13.8" font-style="italic">G</text>
<text transform="translate(604.12,124.80) scale(1.039,1.07)" font-size="13.8" font-style="italic">M</text>
<text transform="translate(618.27,119.70) scale(1.153,1)" font-size="9.8">2</text>
<text transform="translate(624.57,124.80) scale(1.289,1)" font-size="13.8" font-style="italic">n</text>
<text transform="translate(633.15,126.90) scale(1.153,1)" font-size="9.8">1</text>
<g transform="translate(0,125.20) scale(1,1.08) translate(0,-124.80)">
<text transform="translate(639.87,124.80) scale(0.761,1)" font-size="13.8">)</text>
</g>
<text transform="translate(647.39,124.80) scale(1.028,1)" font-size="13.8">log</text>
<text transform="translate(669.06,124.80) scale(1.039,1.07)" font-size="13.8" font-style="italic">M</text>
<line x1="684.00" y1="128.35" x2="689.51" y2="114.16" stroke="#2e2e2e" stroke-width="0.95" stroke-linecap="round"/>
<text transform="translate(690.08,124.80) scale(1.293,1)" font-size="13.8" font-style="italic">m</text>
<text transform="translate(702.76,126.90) scale(1.227,1)" font-size="9.2">I</text>
<text transform="translate(706.52,126.90) scale(1.237,1)" font-size="9.2">R</text>
<text transform="translate(485.30,165.20) scale(1.076,1)" font-size="13.8">spin-3</text>
<line x1="523.23" y1="168.75" x2="528.74" y2="154.56" stroke="#2e2e2e" stroke-width="0.95" stroke-linecap="round"/>
<text transform="translate(529.53,165.20) scale(1.028,1)" font-size="13.8">2</text>
<path d="M542.55,159.25 L548.55,165.25 M542.55,165.25 L548.55,159.25" stroke="#2e2e2e" stroke-width="0.9" stroke-linecap="round" fill="none"/>
<text transform="translate(553.97,165.20) scale(1.041,1)" font-size="13.8">10.78</text>
<line x1="587.08" y1="168.75" x2="592.59" y2="154.56" stroke="#2e2e2e" stroke-width="0.95" stroke-linecap="round"/>
<g transform="translate(0,165.60) scale(1,1.08) translate(0,-165.20)">
<text transform="translate(595.05,165.20) scale(0.761,1)" font-size="13.8">(</text>
</g>
<text transform="translate(599.32,165.20) scale(1.131,1.07)" font-size="13.8" font-style="italic">G</text>
<text transform="translate(611.22,165.20) scale(1.039,1.07)" font-size="13.8" font-style="italic">M</text>
<text transform="translate(625.37,160.10) scale(1.153,1)" font-size="9.8">2</text>
<text transform="translate(631.66,165.20) scale(1.289,1)" font-size="13.8" font-style="italic">n</text>
<text transform="translate(640.24,167.30) scale(1.153,1)" font-size="9.8">3</text>
<line x1="646.41" y1="169.83" x2="651.01" y2="159.70" stroke="#2e2e2e" stroke-width="0.8" stroke-linecap="round"/>
<text transform="translate(651.54,167.30) scale(1.153,1)" font-size="9.8">2</text>
<g transform="translate(0,165.60) scale(1,1.08) translate(0,-165.20)">
<text transform="translate(658.26,165.20) scale(0.761,1)" font-size="13.8">)</text>
</g>
<text transform="translate(665.78,165.20) scale(1.028,1)" font-size="13.8">log</text>
<text transform="translate(687.45,165.20) scale(1.039,1.07)" font-size="13.8" font-style="italic">M</text>
<line x1="702.39" y1="168.75" x2="707.90" y2="154.56" stroke="#2e2e2e" stroke-width="0.95" stroke-linecap="round"/>
<text transform="translate(708.47,165.20) scale(1.293,1)" font-size="13.8" font-style="italic">m</text>
<text transform="translate(721.15,167.30) scale(1.227,1)" font-size="9.2">I</text>
<text transform="translate(724.91,167.30) scale(1.237,1)" font-size="9.2">R</text>
<text transform="translate(485.30,205.60) scale(1.076,1)" font-size="13.8">spin-2</text>
<path d="M528.36,199.65 L534.36,205.65 M528.36,205.65 L534.36,199.65" stroke="#2e2e2e" stroke-width="0.9" stroke-linecap="round" fill="none"/>
<text transform="translate(539.78,205.60) scale(1.045,1)" font-size="13.8">1.26</text>
<line x1="565.80" y1="209.15" x2="571.31" y2="194.96" stroke="#2e2e2e" stroke-width="0.95" stroke-linecap="round"/>
<g transform="translate(0,206.00) scale(1,1.08) translate(0,-205.60)">
<text transform="translate(573.77,205.60) scale(0.761,1)" font-size="13.8">(</text>
</g>
<text transform="translate(578.04,205.60) scale(1.131,1.07)" font-size="13.8" font-style="italic">G</text>
<text transform="translate(589.93,205.60) scale(1.039,1.07)" font-size="13.8" font-style="italic">M</text>
<text transform="translate(604.08,200.50) scale(1.153,1)" font-size="9.8">2</text>
<text transform="translate(610.38,205.60) scale(1.289,1)" font-size="13.8" font-style="italic">n</text>
<text transform="translate(618.96,207.70) scale(1.153,1)" font-size="9.8">2</text>
<g transform="translate(0,206.00) scale(1,1.08) translate(0,-205.60)">
<text transform="translate(625.68,205.60) scale(0.761,1)" font-size="13.8">)</text>
</g>
<text transform="translate(633.20,205.60) scale(1.028,1)" font-size="13.8">log</text>
<text transform="translate(654.87,205.60) scale(1.039,1.07)" font-size="13.8" font-style="italic">M</text>
<line x1="669.81" y1="209.15" x2="675.32" y2="194.96" stroke="#2e2e2e" stroke-width="0.95" stroke-linecap="round"/>
<text transform="translate(675.89,205.60) scale(1.293,1)" font-size="13.8" font-style="italic">m</text>
<text transform="translate(688.57,207.70) scale(1.227,1)" font-size="9.2">I</text>
<text transform="translate(692.33,207.70) scale(1.237,1)" font-size="9.2">R</text>
<line x1="511.1" y1="242.95" x2="519.9" y2="242.95" stroke="#2e2e2e" stroke-width="0.85"/>
<text transform="translate(521.11,246.50) scale(1.053,1)" font-size="13.8">low-energy</text>
<text transform="translate(591.95,246.50) scale(1.100,1)" font-size="13.8">gravity</text>
</g>
</svg></body></html>
